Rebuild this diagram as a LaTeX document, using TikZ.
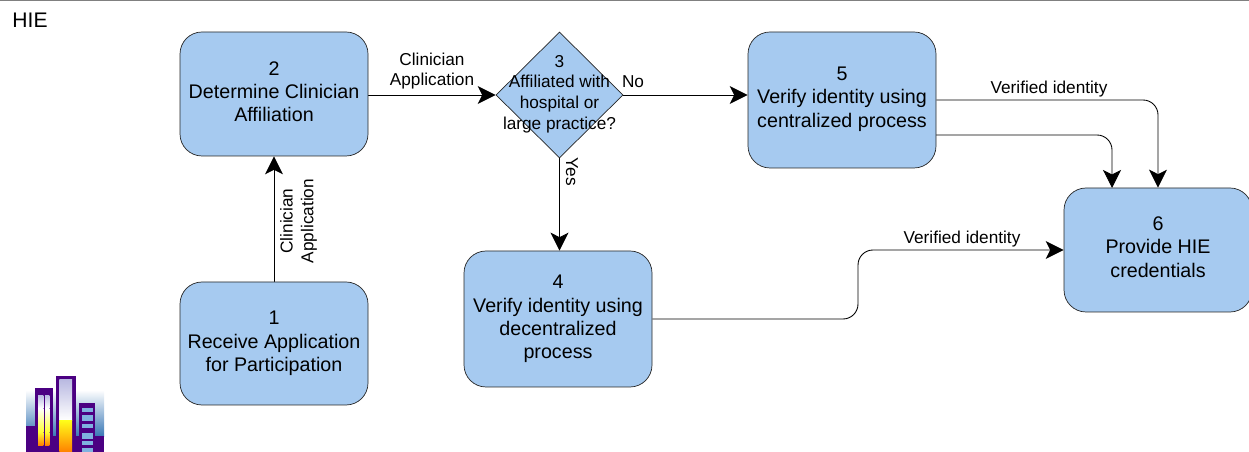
\documentclass[tikz,border=0pt]{standalone}
\usepackage{fontspec}
\setmainfont{Liberation Sans}
\usetikzlibrary{arrows.meta,shapes.geometric}
\definecolor{boxblue}{RGB}{166,202,240}
\definecolor{logopurple}{RGB}{75,0,130}
\definecolor{logosky}{RGB}{58,120,182}
\definecolor{logopane}{RGB}{127,178,224}
\definecolor{logolilac}{RGB}{185,185,225}
\pgfdeclarelayer{bg}
\pgfsetlayers{bg,main}
\tikzset{
    stepbox/.style={draw=black!85, fill=boxblue, rounded corners=.44cm, minimum width=3.76cm, align=center, inner sep=0mm, font=\fontsize{11.2}{13.3}\selectfont},
    choice/.style={diamond, draw=black!85, fill=boxblue, inner sep=0mm, minimum width=2.54cm, minimum height=2.52cm},
    lbl/.style={align=center, inner sep=0mm, font=\fontsize{9.8}{11.8}\selectfont},
    flow/.style={draw=black, line width=.5pt, -{Stealth[length=.36cm,width=.36cm,inset=.09cm]}},
    flowround/.style={flow, rounded corners=.3cm}
}

\begin{document}
\begin{tikzpicture}
        \clip (0cm, 0cm) rectangle (24.98cm, 9.04cm);
        \draw [gray, line width=.8pt] (0cm, 9.03cm) -- (24.98cm, 9.03cm);
        \node (title) [inner sep=0mm, font=\fontsize{12}{14}\selectfont] at (0.60cm, 8.64cm) {HIE};
        \node (v1) [stepbox, minimum height=2.46cm] at (5.48cm, 2.17cm) {1\\Receive Application\\for Participation};
        \node (v2) [stepbox, minimum height=2.48cm, text depth=2.8pt] at (5.48cm, 7.16cm) {2\\Determine Clinician\\Affiliation};
        \node (v3) [choice, label={[lbl, yshift=.5pt]center:{3\\Affiliated with\\hospital or\\large practice?}}] at (11.19cm, 7.14cm) {};
        \node (v4) [stepbox, minimum height=2.72cm] at (11.16cm, 2.66cm) {4\\Verify identity using\\decentralized\\process};
        \node (v5) [stepbox, minimum height=2.72cm, text depth=3.5pt] at (16.84cm, 7.04cm) {5\\Verify identity using\\centralized process};
        \node (v6) [stepbox, minimum height=2.48cm, text depth=3.4pt] at (23.16cm, 4.04cm) {6\\Provide HIE\\credentials};
        \node (t12) [lbl, rotate=90] at (5.97cm, 4.62cm) {Clinician\\Application};
        \node (t23) [lbl] at (8.64cm, 7.62cm) {Clinician\\Application};
        \node (tno) [lbl] at (12.66cm, 7.40cm) {No};
        \node (tyes) [lbl, rotate=-90] at (11.44cm, 5.60cm) {Yes};
        \node (t56) [lbl] at (20.98cm, 7.26cm) {Verified identity};
        \node (t46) [lbl] at (19.24cm, 4.26cm) {Verified identity};
        \coordinate (v5b) at (18.72cm, 6.34cm);
        \coordinate (v6b) at (22.24cm, 5.28cm);
        \coordinate (k46) at (17.16cm, 2.66cm);
        \begin{pgfonlayer}{bg}
                \draw [flow] (v1) -- (v2);
                \draw [flow] (v2.east |- v3.west) -- (v3.west);
                \draw [flow] (v3.south) -- (v3.south |- v4.north);
                \draw [flow] (v3.east) -- (v3.east -| v5.west);
                \draw [flowround] (v5.east) -| (v6.north);
                \draw [flowround] (v5b) -| (v6b);
                \draw [flowround] (v4.east) -- (k46) |- (v6.west);
        \end{pgfonlayer}
        % logo
        \begin{scope}[x=.02cm, y=-.02cm, yshift=9.04cm]
                \shade [top color=white, bottom color=logosky] (26,390) rectangle (104,436);
                \fill [logopurple] (26,426) rectangle (35,452);
                \fill [logopurple] (35,388) rectangle (53,452);
                \fill [logopurple] (53,436) rectangle (56,452);
                \fill [logopurple] (56,376) rectangle (76,452);
                \fill [logopurple] (76,436) rectangle (79,452);
                \fill [logopurple] (79,403) rectangle (95,452);
                \fill [logopurple] (95,436) rectangle (104,452);
                \foreach \xa/\xb in {38/43.3, 45/49.3} {
                        \shade [top color=logolilac, bottom color=white] (\xa,395) rectangle (\xb,408);
                        \shade [top color=white, bottom color=yellow!80] (\xa,408) rectangle (\xb,432);
                        \shade [top color=yellow!80, bottom color=orange] (\xa,432) rectangle (\xb,445);
                }
                \shade [top color=logolilac, bottom color=white] (59.3,379.3) rectangle (72,420);
                \shade [top color=yellow!90, bottom color=orange] (59.3,420) rectangle (72,452);
                \foreach \ya/\yb in {408/412, 415/421, 424/428, 433/439, 441/445, 448/452}
                        \fill [logopane] (82,\ya) rectangle (93,\yb);
        \end{scope}
\end{tikzpicture}
\end{document}
